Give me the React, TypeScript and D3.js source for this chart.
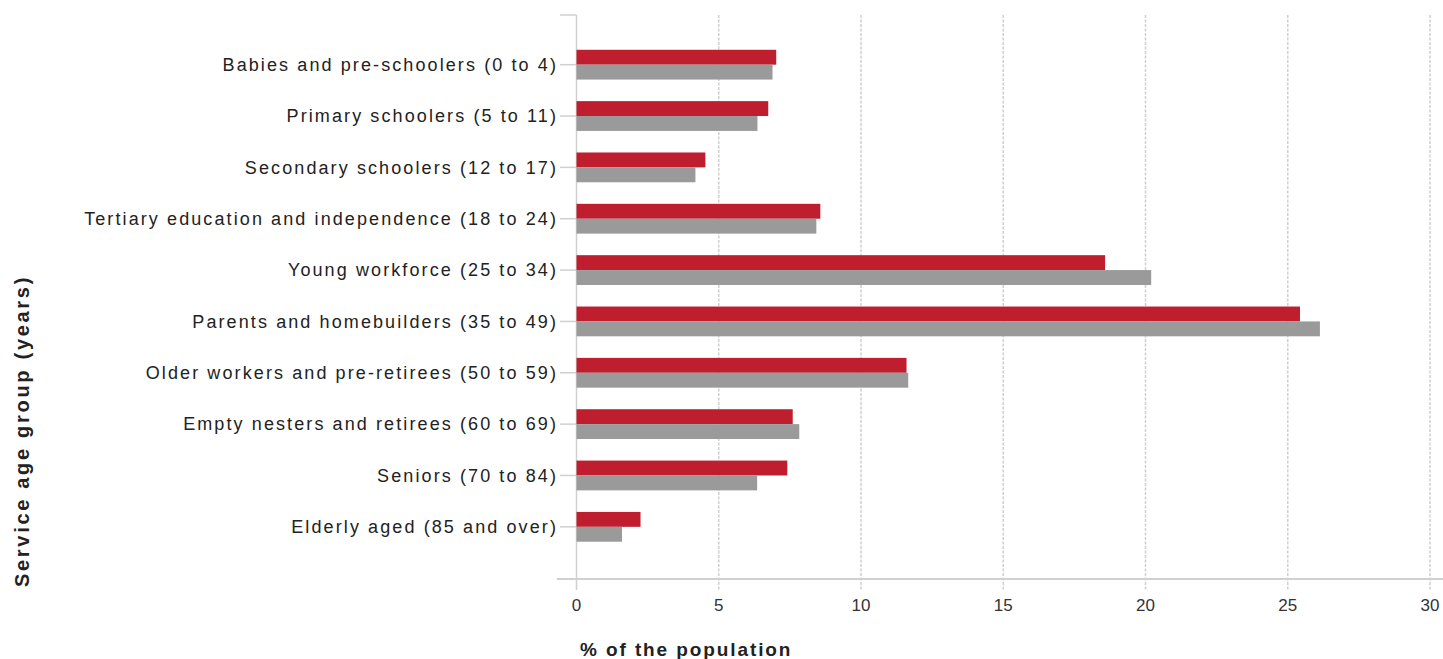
import React from "react";
import * as d3 from "d3";

const categories = [
  "Babies and pre-schoolers (0 to 4)",
  "Primary schoolers (5 to 11)",
  "Secondary schoolers (12 to 17)",
  "Tertiary education and independence (18 to 24)",
  "Young workforce (25 to 34)",
  "Parents and homebuilders (35 to 49)",
  "Older workers and pre-retirees (50 to 59)",
  "Empty nesters and retirees (60 to 69)",
  "Seniors (70 to 84)",
  "Elderly aged (85 and over)",
];
const redValues = [7.02, 6.74, 4.53, 8.57, 18.58, 25.43, 11.6, 7.6, 7.41, 2.25];
const greyValues = [6.89, 6.36, 4.18, 8.43, 20.2, 26.13, 11.66, 7.83, 6.35, 1.6];
const xTicks = [0, 5, 10, 15, 20, 25, 30];

const W = 1443;
const H = 659;
const FONT = "'Liberation Sans', Arial, sans-serif";

export default function App() {
  const x = d3.scaleLinear().domain([0, 30]).range([576.5, 1430]);
  const y = d3
    .scaleBand<string>()
    .domain(categories)
    .range([39, 552.5])
    .paddingInner(0.42)
    .paddingOuter(0.21);
  const half = y.bandwidth() / 2;
  const axisY = 579;
  const topY = 15;

  return (
    <svg width={W} height={H} style={{ position: "absolute", left: 0, top: 0, background: "#fff" }}>
      {/* gridlines */}
      {xTicks.slice(1).map((t) => (
        <line key={"g" + t} x1={x(t)} x2={x(t)} y1={topY} y2={590} stroke="#d0d0d0" strokeWidth={1.5} strokeDasharray="3,1.5" />
      ))}
      {/* x axis line */}
      <line x1={557} x2={W} y1={axisY} y2={axisY} stroke="#d0d0d0" strokeWidth={2} />
      {/* y axis line */}
      <line x1={x(0)} x2={x(0)} y1={topY} y2={590} stroke="#d0d0d0" strokeWidth={1.5} />
      <line x1={560} x2={x(0)} y1={topY} y2={topY} stroke="#d0d0d0" strokeWidth={1.5} />
      {categories.map((c) => {
        const cy = (y(c) as number) + half;
        return <line key={"t" + c} x1={560} x2={x(0)} y1={cy} y2={cy} stroke="#d0d0d0" strokeWidth={1.5} />;
      })}
      {/* bars */}
      {categories.map((c, i) => {
        const top = y(c) as number;
        return (
          <g key={"b" + c}>
            <rect x={x(0)} y={top} width={x(redValues[i]) - x(0)} height={half} fill="#be1e2d" />
            <rect x={x(0)} y={top + half} width={x(greyValues[i]) - x(0)} height={half} fill="#9a9a9a" />
          </g>
        );
      })}
      {/* category labels */}
      {categories.map((c) => {
        const cy = (y(c) as number) + half;
        return (
          <text key={"l" + c} x={558} y={cy} dy="0.35em" textAnchor="end" fontFamily={FONT} fontSize={18} letterSpacing={2.1} fill="#222">
            {c}
          </text>
        );
      })}
      {/* x tick labels */}
      {xTicks.map((t) => (
        <text key={"xl" + t} x={x(t)} y={605} dy="0.35em" textAnchor="middle" fontFamily={FONT} fontSize={17} fill="#333">
          {t}
        </text>
      ))}
      {/* axis titles */}
      <text x={580} y={656} fontFamily={FONT} fontSize={19} fontWeight="bold" letterSpacing={1.9} fill="#222">
        % of the population
      </text>
      <text transform={`translate(29,431) rotate(-90)`} textAnchor="middle" fontFamily={FONT} fontSize={20} fontWeight="bold" letterSpacing={2.7} fill="#222">
        Service age group (years)
      </text>
    </svg>
  );
}
